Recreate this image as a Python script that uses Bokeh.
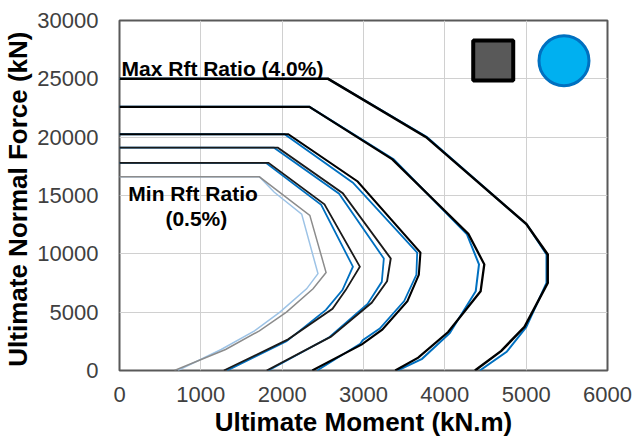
from bokeh.plotting import figure
from bokeh.models import Range1d, FixedTicker
from bokeh.embed import file_html
from bokeh.resources import INLINE
from bokeh.core.properties import value

# ---------------- data ----------------
x_ticks = [0, 1000, 2000, 3000, 4000, 5000, 6000]
y_ticks = [0, 5000, 10000, 15000, 20000, 25000, 30000]

# Series A (black) - interaction curves, moment (kN.m) and normal force (kN)
a1_m = [0, 1720, 2340, 2540, 2380, 2053, 1720, 1304, 676]
a1_n = [16600, 16600, 13300, 8400, 7000, 5000, 3400, 1800, 0]
a2_m = [0, 1832, 2520, 2955, 2781, 2619, 2073, 1283]
a2_n = [17800, 17800, 14250, 8900, 6890, 5290, 2670, 0]
a3_m = [0, 1947, 2745, 3335, 3290, 3100, 2600, 1810]
a3_n = [19100, 19100, 15200, 9600, 7650, 5800, 2900, 0]
a4_m = [0, 2075, 2928, 3700, 3680, 3540, 3230, 2980, 2370]
a4_n = [20250, 20250, 16200, 10100, 8200, 5950, 3500, 2240, 0]
a5_m = [0, 2335, 3355, 4290, 4485, 4440, 4041, 3673, 3390]
a5_n = [22600, 22600, 18100, 11700, 9100, 6800, 3300, 1100, 0]
a6_m = [0, 2565, 3770, 5000, 5265, 5265, 4980, 4694, 4370]
a6_n = [25000, 25000, 20000, 12570, 9950, 7500, 3750, 1680, 0]

# Series B (blue)
b1_m = [0, 1720, 1900, 2240, 2440, 2300, 1972, 1660, 1250, 717]
b1_n = [16600, 16600, 15300, 13400, 8300, 7000, 5000, 3400, 1800, 0]
b2_m = [0, 1800, 2480, 2870, 2741, 2538, 2053, 1324]
b2_n = [17800, 17800, 14200, 8900, 6890, 5200, 2500, 0]
b3_m = [0, 1900, 2700, 3250, 3225, 3050, 2580, 1830]
b3_n = [19100, 19100, 15150, 9600, 7600, 5700, 2850, 0]
b4_m = [0, 2030, 2870, 3660, 3650, 3500, 3200, 2990, 2960, 2430]
b4_n = [20250, 20250, 16100, 10100, 8200, 5950, 3600, 2600, 2300, 0]
b5_m = [0, 2335, 3370, 4270, 4420, 4380, 4060, 3720, 3420]
b5_n = [22600, 22600, 18100, 11700, 9100, 6800, 3200, 1000, 0]
b6_m = [0, 2565, 3780, 5010, 5250, 5250, 5000, 4760, 4430]
b6_n = [25000, 25000, 20000, 12500, 9950, 7500, 3700, 1600, 0]

max_label = "Max Rft Ratio (4.0%)"
min_label_1 = "Min Rft Ratio"
min_label_2 = "(0.5%)"
x_title = "Ultimate Moment (kN.m)"
y_title = "Ultimate Normal Force  (kN)"

FONT = "Liberation Sans"

p = figure(width=637, height=442, output_backend="svg", toolbar_location=None,
           x_range=Range1d(0, 6000), y_range=Range1d(0, 30000),
           min_border_left=118, min_border_right=30, min_border_top=20,
           min_border_bottom=72)
p.background_fill_color = "white"
p.border_fill_color = "white"
p.outline_line_color = "#595959"
p.outline_line_width = 2

for ax in (p.xaxis[0], p.yaxis[0]):
    ax.axis_line_color = None
    ax.major_tick_line_color = None
    ax.minor_tick_line_color = None
    ax.major_label_text_font = FONT
    ax.major_label_text_font_size = "22px"
    ax.major_label_text_color = "#404040"
    ax.axis_label_text_font = FONT
    ax.axis_label_text_font_size = "26px"
    ax.axis_label_text_font_style = "bold"
    ax.axis_label_text_color = "black"

p.xaxis.ticker = FixedTicker(ticks=x_ticks)
p.yaxis.ticker = FixedTicker(ticks=y_ticks)
p.xaxis.axis_label = x_title
p.yaxis.axis_label = y_title
p.xaxis.major_label_standoff = 10
p.xaxis.axis_label_standoff = 2
p.yaxis.major_label_standoff = 15
p.yaxis.axis_label_standoff = 1

p.xgrid.ticker = FixedTicker(ticks=x_ticks)
p.ygrid.ticker = FixedTicker(ticks=y_ticks)
p.grid.grid_line_color = "#d0d0d0"
p.grid.grid_line_width = 1

# blue series first, black on top
blue_curves = [(b1_m, b1_n, "#9DC3E6", 1.5), (b2_m, b2_n, "#0070C0", 1.8),
               (b3_m, b3_n, "#0070C0", 1.8), (b4_m, b4_n, "#0070C0", 1.8),
               (b5_m, b5_n, "#0070C0", 2.0), (b6_m, b6_n, "#0070C0", 2.0)]
black_curves = [(a1_m, a1_n, "#8c8c8c", 1.5), (a2_m, a2_n, "#1a1a1a", 1.8),
                (a3_m, a3_n, "#1a1a1a", 1.9), (a4_m, a4_n, "#000000", 2.1),
                (a5_m, a5_n, "#000000", 2.3), (a6_m, a6_n, "#000000", 2.5)]
for m, n, c, w in blue_curves + black_curves:
    p.line(m, n, line_color=c, line_width=w, line_join="miter")

# legend symbols (no text in the reference)
p.scatter([4595], [26570], marker="square", size=40, fill_color="#595959",
          line_color="black", line_width=4)
p.scatter([5465], [26550], marker="circle", size=50, fill_color="#00B0F0",
          line_color="#0070C0", line_width=3)

p.text([25], [25850], text=[max_label], text_font=value(FONT),
       text_font_size="21px", text_font_style="bold", text_color="black",
       text_baseline="alphabetic", text_align="left")
p.text([905], [15150], text=[min_label_1], text_font=value(FONT),
       text_font_size="21px", text_font_style="bold", text_color="black",
       text_baseline="alphabetic", text_align="center")
p.text([945], [13050], text=[min_label_2], text_font=value(FONT),
       text_font_size="21px", text_font_style="bold", text_color="black",
       text_baseline="alphabetic", text_align="center")

open("out.html", "w").write(file_html(p, INLINE))
